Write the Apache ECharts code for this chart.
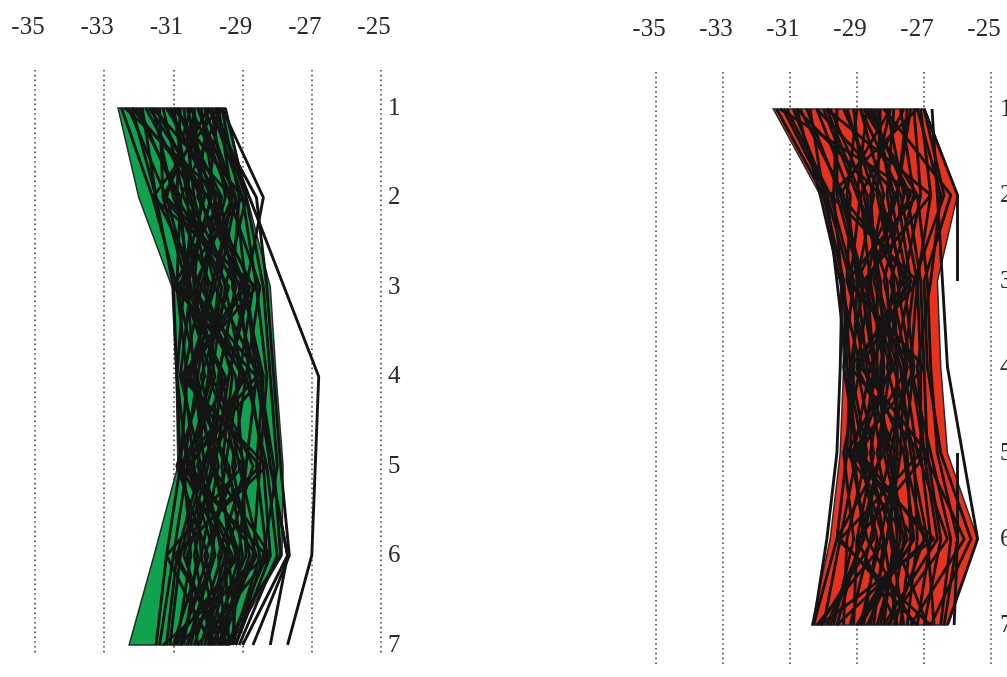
<!DOCTYPE html>
<html>
<head>
<meta charset="utf-8">
<script src="https://cdn.jsdelivr.net/npm/echarts@6/dist/echarts.min.js"></script>
<style>html,body{margin:0;padding:0;background:#fff}#c{width:1007px;height:677px}</style>
</head>
<body>
<div id="c"></div>
<script>
// ---- data ----
const levels = [1, 2, 3, 4, 5, 6, 7];
const xTicks = [-35, -33, -31, -29, -27, -25];

// envelope (min / max per level)
const leftEnvMin = [-32.6, -32.0, -31.04, -30.92, -30.87, -31.56, -32.28];
const leftEnvMax = [-29.5, -28.87, -28.2, -28.03, -27.83, -27.86, -29.36];
const rightEnvMin = [-31.5, -30.1, -29.5, -29.4, -29.5, -29.8, -30.35];
const rightEnvMax = [-26.97, -26.0, -26.6, -26.5, -26.3, -25.4, -26.3];

// individual profiles (value at levels 1..7)
const leftLines = [
  [-32.5, -31.6, -30.9, -30.6, -30.8, -31.2, -31.5],
  [-32.3, -31.2, -30.5, -30.8, -30.2, -30.9, -31.2],
  [-32.1, -30.8, -30.9, -30.3, -30.7, -30.5, -30.9],
  [-31.9, -31.5, -30.2, -30.7, -30.4, -30.2, -31.0],
  [-31.8, -30.4, -30.7, -29.9, -30.6, -29.8, -30.6],
  [-31.6, -31.0, -29.9, -30.5, -29.8, -30.6, -30.3],
  [-31.5, -30.2, -30.4, -30.1, -30.9, -30.0, -30.8],
  [-31.3, -30.7, -29.6, -30.0, -30.3, -29.5, -30.2],
  [-31.1, -29.9, -30.6, -29.6, -29.9, -30.4, -29.9],
  [-31.0, -30.5, -30.0, -30.4, -29.5, -29.9, -30.5],
  [-30.9, -29.6, -30.3, -29.8, -30.5, -29.3, -30.0],
  [-30.8, -30.9, -29.4, -30.2, -29.7, -30.2, -29.7],
  [-30.6, -30.1, -30.8, -29.5, -30.1, -29.6, -30.4],
  [-30.5, -29.3, -29.8, -30.6, -29.4, -29.0, -29.6],
  [-30.4, -30.6, -29.2, -29.7, -30.0, -30.7, -29.8],
  [-30.2, -29.8, -30.1, -29.3, -29.6, -29.4, -30.1],
  [-30.1, -29.2, -29.7, -30.0, -28.9, -29.7, -29.5],
  [-30.0, -30.3, -28.9, -29.4, -29.8, -29.2, -30.6],
  [-29.9, -29.5, -30.2, -28.9, -29.3, -28.8, -29.7],
  [-29.8, -28.9, -29.5, -29.9, -28.7, -29.5, -29.4],
  [-29.7, -30.0, -28.7, -29.1, -29.5, -28.6, -29.9],
  [-29.6, -29.1, -29.3, -28.6, -28.9, -29.1, -29.3],
  [-31.7, -30.0, -29.1, -28.8, -28.4, -28.2, -29.2],
  [-32.0, -30.9, -30.5, -29.6, -29.1, -28.5, -29.3],
  [-30.3, -29.4, -28.5, -28.9, -28.3, -28.0, -29.1],
  [-31.2, -29.7, -29.0, -28.4, -28.6, -28.3, -29.4],
  [-30.7, -30.4, -29.8, -28.5, -28.1, -27.9, -29.5],
  [-29.9, -29.0, -28.6, -28.3, -28.5, -28.7, -29.6],
  [-31.4, -31.3, -30.6, -30.4, -30.1, -30.8, -31.1],
  [-32.2, -31.5, -31.0, -30.9, -30.6, -31.0, -31.4],
  [-30.6, -29.9, -30.7, -30.9, -30.8, -30.3, -30.7],
  [-29.7, -29.3, -29.9, -30.3, -29.9, -29.1, -29.8],
  [-31.0, -30.6, -30.4, -29.2, -29.0, -28.9, -30.0],
  [-30.4, -30.2, -29.5, -29.0, -30.2, -29.8, -30.9],
  [-29.5, -28.9, -28.4, -28.2, -28.0, -28.4, -29.2],
  [-30.9, -29.8, -29.2, -29.7, -29.2, -30.1, -29.5],
  [-29.6, -28.4, -28.9, -28.5, -28.2, -27.7, -28.2],
  [-29.8, -28.8, -27.8, -26.8, -26.9, -27.0, -27.7],
  [-30.0, -28.6, -28.3, -28.1, -27.9, -27.65, -28.7],
  [-30.3, -29.2, -28.9, -28.6, -28.2, -27.7, -29.0],
  [-32.4, -29.6, -31.0, -28.6, -30.8, -28.3, -31.3],
  [-29.7, -31.6, -28.6, -30.8, -28.3, -31.0, -29.4],
  [-31.0, -29.0, -30.9, -28.9, -30.5, -28.6, -30.8],
  [-30.0, -31.3, -29.0, -30.7, -28.5, -30.9, -29.6],
  [-32.2, -30.0, -28.9, -30.6, -29.0, -31.2, -29.9],
  [-29.6, -30.8, -30.6, -28.4, -30.6, -29.1, -31.0],
  [-31.6, -29.3, -30.4, -29.0, -29.9, -28.2, -30.3],
  [-30.5, -31.2, -28.8, -29.4, -30.8, -29.4, -29.2]
];

const rightLines = [
  [-31.4, -30.0, -29.4, -29.2, -29.3, -29.6, -30.3],
  [-31.1, -29.8, -29.1, -29.4, -29.0, -29.5, -30.0],
  [-30.8, -30.1, -29.5, -28.9, -29.4, -29.1, -29.7],
  [-30.5, -29.5, -28.8, -29.2, -28.7, -29.3, -29.4],
  [-30.2, -29.2, -29.3, -28.6, -29.1, -28.8, -29.9],
  [-29.9, -28.9, -28.6, -29.0, -28.5, -29.0, -29.1],
  [-29.6, -29.6, -28.9, -28.4, -28.9, -28.4, -28.8],
  [-29.3, -28.5, -29.0, -28.7, -28.3, -28.9, -29.6],
  [-29.1, -28.8, -28.3, -28.2, -28.6, -28.2, -28.5],
  [-28.9, -28.2, -28.7, -28.5, -28.0, -28.6, -29.2],
  [-28.7, -29.0, -28.1, -28.0, -28.4, -27.9, -28.2],
  [-28.5, -27.9, -28.5, -27.8, -27.8, -28.3, -28.9],
  [-28.3, -28.4, -27.9, -28.3, -28.2, -27.6, -28.0],
  [-28.1, -27.6, -28.2, -27.6, -27.7, -28.1, -28.6],
  [-27.9, -28.1, -27.7, -28.1, -27.5, -27.4, -27.7],
  [-27.7, -27.3, -28.0, -27.5, -28.0, -27.8, -28.3],
  [-27.5, -27.8, -27.4, -27.9, -27.3, -27.2, -27.5],
  [-27.3, -27.1, -27.6, -27.3, -27.6, -27.0, -27.9],
  [-27.1, -26.8, -27.2, -27.1, -27.1, -26.8, -27.2],
  [-28.6, -27.5, -27.1, -27.0, -26.9, -26.5, -27.0],
  [-29.8, -28.7, -28.4, -27.7, -27.4, -26.9, -26.7],
  [-30.0, -29.0, -27.8, -27.4, -26.8, -26.2, -26.5],
  [-28.8, -27.2, -26.9, -26.8, -26.6, -26.0, -26.4],
  [-27.2, -26.5, -26.8, -27.2, -27.0, -25.8, -27.4],
  [-28.2, -26.2, -27.0, -26.9, -26.5, -25.6, -26.8],
  [-27.0, -26.4, -27.3, -27.6, -27.2, -26.3, -28.1],
  [-31.2, -29.9, -29.2, -28.8, -28.0, -27.7, -28.4],
  [-30.7, -29.4, -28.9, -28.5, -28.8, -28.5, -30.1],
  [-29.4, -28.3, -27.9, -27.8, -27.9, -28.0, -27.6],
  [-28.0, -28.6, -28.4, -28.4, -28.1, -27.5, -28.7],
  [-29.0, -29.3, -29.0, -29.1, -29.2, -28.7, -27.3],
  [-30.4, -30.0, -29.4, -29.3, -28.8, -27.9, -26.9],
  [-27.4, -27.8, -28.6, -28.2, -28.3, -28.8, -29.8],
  [-28.4, -28.0, -27.5, -28.6, -27.6, -27.3, -29.0],
  [-27.0, -26.0, -26.0, null, null, null, null],
  [-26.76, -26.6, -26.45, -26.3, -25.85, -25.4, -26.3],
  [null, null, null, null, -26.0, -26.0, -26.1],
  [-29.6, -29.7, -29.45, -29.5, -29.6, -29.9, -30.3],
  [-30.9, -29.9, -29.6, -29.3, -29.0, -28.2, -27.8],
  [-28.9, -27.7, -27.2, -27.4, -27.0, -26.6, -28.2],
  [-31.3, -27.2, -29.3, -27.0, -29.2, -26.7, -30.1],
  [-27.2, -29.8, -27.2, -29.2, -27.1, -29.5, -27.2],
  [-30.2, -27.8, -29.0, -27.5, -28.9, -26.9, -29.6],
  [-28.0, -29.5, -27.4, -28.9, -26.9, -29.0, -27.8],
  [-29.9, -26.8, -28.8, -28.0, -29.0, -27.3, -28.9],
  [-27.6, -28.9, -29.2, -27.3, -28.2, -29.6, -26.8],
  [-30.8, -28.3, -27.6, -29.0, -27.8, -28.1, -30.2],
  [-28.7, -27.4, -28.7, -27.9, -29.3, -27.5, -29.0]
];

// ---- chart ----
const chart = echarts.init(document.getElementById('c'));
const FONT = '"Liberation Serif", "DejaVu Serif", serif';

function toPairs(arr) {
  const out = [];
  arr.forEach((v, i) => { if (v !== null) out.push([v, levels[i]]); });
  return out;
}

function envelopeSeries(idx, mins, maxs, color) {
  return {
    type: 'custom',
    xAxisIndex: idx, yAxisIndex: idx,
    z: 1, silent: true, clip: false,
    data: [[mins[0], levels[0]]],
    encode: { x: 0, y: 1 },
    renderItem: function (params, api) {
      const pts = [];
      for (let i = 0; i < levels.length; i++) pts.push(api.coord([mins[i], levels[i]]));
      for (let i = levels.length - 1; i >= 0; i--) pts.push(api.coord([maxs[i], levels[i]]));
      return {
        type: 'polygon',
        shape: { points: pts },
        style: { fill: color, stroke: '#2a2a2a', lineWidth: 1.5 }
      };
    }
  };
}

function lineSeries(idx, lines) {
  return lines.map(l => ({
    type: 'line', xAxisIndex: idx, yAxisIndex: idx, z: 2,
    data: toPairs(l), showSymbol: false, symbol: 'none', silent: true,
    lineStyle: { color: '#141414', width: 2.9 }
  }));
}

function xAxis(idx) {
  return {
    type: 'value', gridIndex: idx, position: 'top', min: -35, max: -25, interval: 2,
    axisLine: { show: false }, axisTick: { show: false },
    axisLabel: { margin: 30, fontFamily: FONT, fontSize: 25, color: '#2b2b2b', padding: [0, 14, 0, 0] },
    splitLine: { show: true, lineStyle: { type: [1.6, 3.2], color: '#444', width: 1.6 } }
  };
}

function yAxis(idx, min, max, margin) {
  return {
    type: 'value', gridIndex: idx, position: 'right', inverse: true, min: min, max: max,
    axisLine: { show: false }, axisTick: { show: false }, splitLine: { show: false },
    axisLabel: { customValues: levels, margin: margin, fontFamily: FONT, fontSize: 25, color: '#2b2b2b',
      verticalAlign: 'middle', padding: [6, 0, 0, 0] }
  };
}

chart.setOption({
  animation: false,
  backgroundColor: '#fff',
  grid: [
    { left: 35, width: 346, top: 70, height: 585, outerBoundsMode: 'none', containLabel: false },
    { left: 656, width: 335, top: 72, height: 593, outerBoundsMode: 'none', containLabel: false }
  ],
  xAxis: [xAxis(0), xAxis(1)],
  yAxis: [yAxis(0, 0.5754, 7.112, 7), yAxis(1, 0.570, 7.465, 9)],
  series: [
    envelopeSeries(0, leftEnvMin, leftEnvMax, '#0fa24f'),
    envelopeSeries(1, rightEnvMin, rightEnvMax, '#e8321e')
  ].concat(lineSeries(0, leftLines), lineSeries(1, rightLines))
});
</script>
</body>
</html>
